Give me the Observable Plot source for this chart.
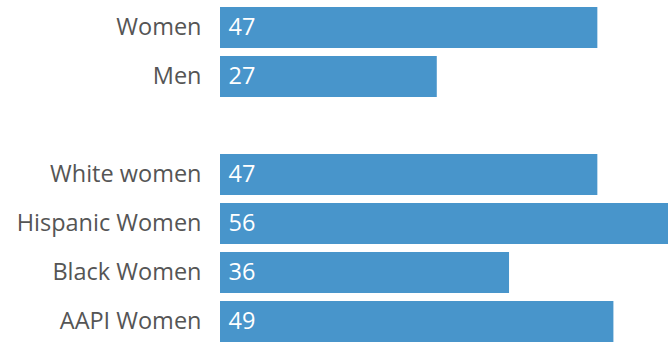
<!DOCTYPE html>
<html>
<head>
<meta charset="utf-8">
<script src="https://cdn.jsdelivr.net/npm/d3@7"></script>
<script src="https://cdn.jsdelivr.net/npm/@observablehq/plot@0.6"></script>
<style>
  html, body { margin: 0; padding: 0; background: #fff; }
  #chart svg { display: block; overflow: hidden; }
</style>
</head>
<body>
<div id="chart"></div>
<script>
const categories = ["Women", "Men", "", "White women", "Hispanic Women", "Black Women", "AAPI Women"];
const labels = ["Women", "Men", "White women", "Hispanic Women", "Black Women", "AAPI Women"];
const values = [47, 27, 47, 56, 36, 49];

const data = labels.map((label, i) => ({label, value: values[i]}));

const chart = Plot.plot({
  width: 668,
  height: 345,
  marginLeft: 220,
  marginRight: 0,
  marginTop: 5,
  marginBottom: 0,
  style: {fontFamily: "'Open Sans', sans-serif", fontSize: "23.5px", background: "#fff"},
  x: {domain: [0, 55.8], axis: null},
  y: {domain: categories, paddingInner: 0.155, paddingOuter: 0, label: null},
  marks: [
    Plot.barX(data, {x: "value", y: "label", fill: "#4895cb"}),
    Plot.axisY({tickSize: 0, tickPadding: 19, label: null, fill: "#555", fontSize: 23.5, dy: -1}),
    Plot.text(data, {x: 0, y: "label", text: d => String(d.value), textAnchor: "start", dx: 8, dy: -1, fill: "#fff", fontSize: 23.5})
  ]
});
document.getElementById("chart").appendChild(chart);
</script>
</body>
</html>
